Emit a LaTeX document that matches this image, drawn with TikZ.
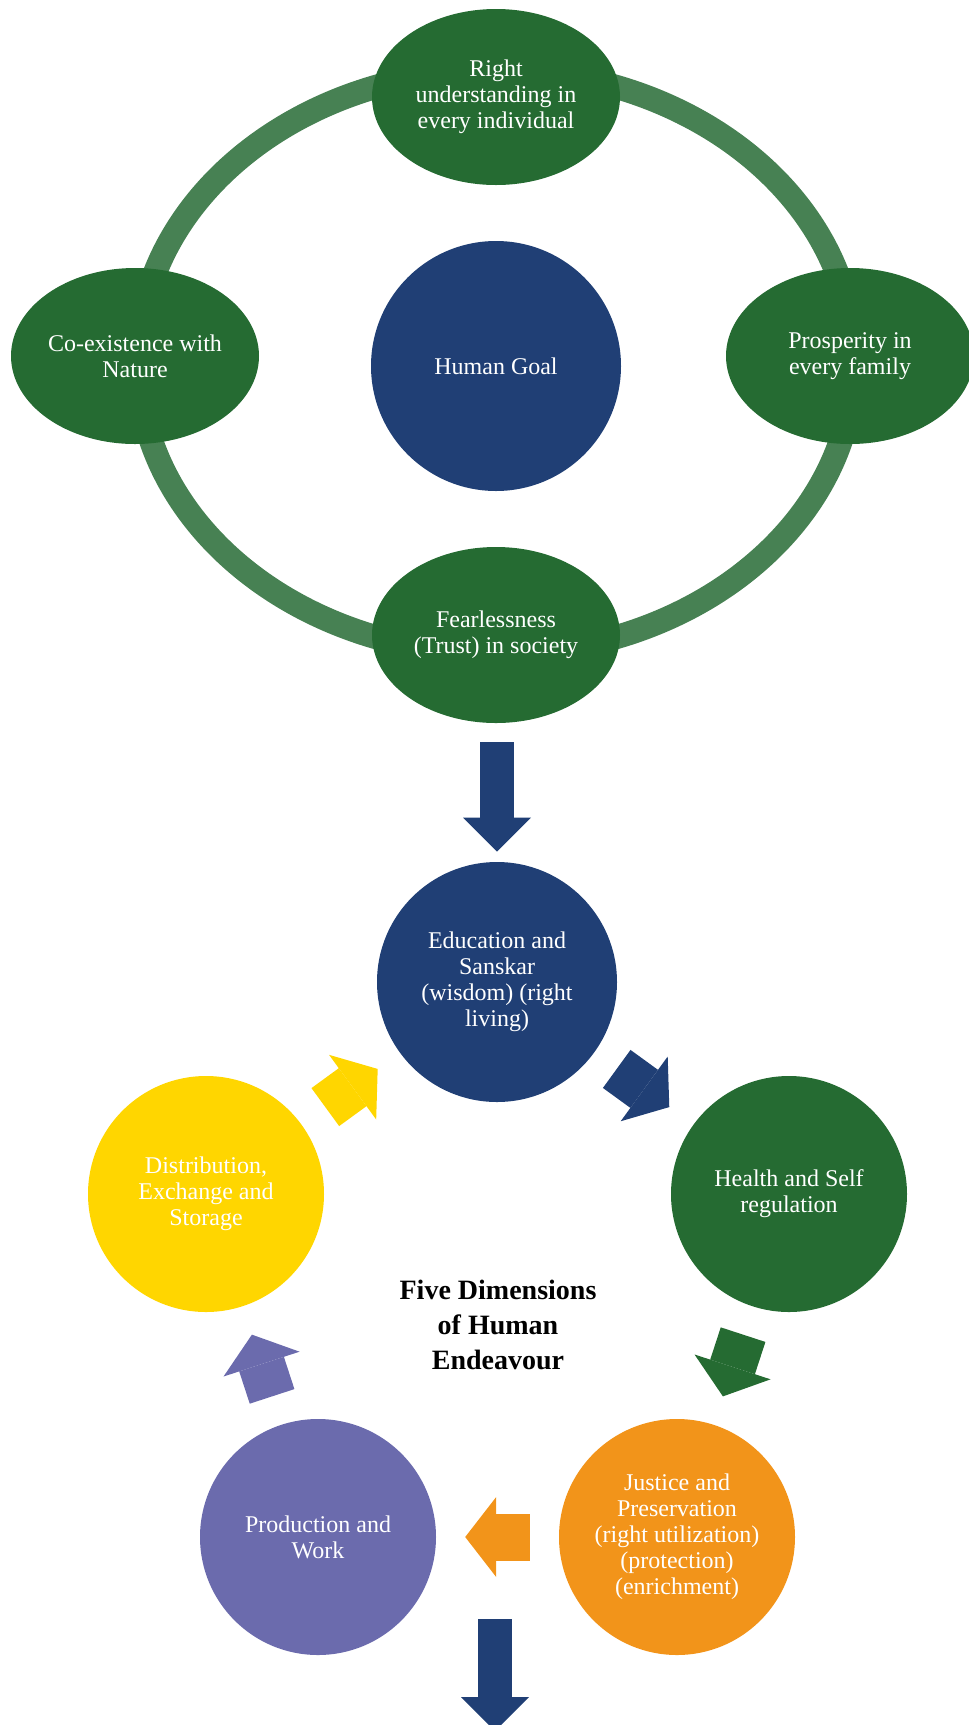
\documentclass[tikz,border=0pt]{standalone}
\usepackage{fontspec}
\setmainfont{Liberation Serif}
\usetikzlibrary{arrows.meta,shapes.geometric,calc}

\definecolor{leafgreen}{RGB}{37,107,50}
\definecolor{ringgreen}{RGB}{71,129,83}
\definecolor{navy}{RGB}{32,63,117}
\definecolor{sunyellow}{RGB}{255,214,0}
\definecolor{amber}{RGB}{242,148,26}
\definecolor{lavender}{RGB}{107,107,173}

\begin{document}
\begin{tikzpicture}[x=0.5pt, y=-0.5pt,
    whitetext/.style={text=white, align=center, inner sep=0pt, font=\fontsize{12}{13}\selectfont},
    goalnode/.style={whitetext, ellipse, fill=leafgreen, minimum width=124pt, minimum height=88pt},
    dimnode/.style={whitetext, circle, minimum size=118pt},
    cyclearrow/.style={line width=23.5pt, -{Triangle[length=15.5pt, width=40pt, line width=0pt]}},
    flowarrow/.style={navy, line width=17pt, -{Triangle[length=17pt, width=34pt, line width=0pt]}}]
  \clip (0,0) rectangle (969,1725);

  % human goal ring
  \draw[ringgreen, line width=12pt] (496,362) ellipse [x radius=179pt, y radius=146pt];
  \node (goal) at (496,366) [whitetext, circle, fill=navy, minimum size=125pt] {Human Goal};
  \node (understanding) at (496,97) [goalnode] {Right\\understanding in\\every individual};
  \node (prosperity) at (850,356) [goalnode] {Prosperity in\\every family};
  \node (fear) at (496,635) [goalnode] {Fearlessness\\(Trust) in society};
  \node (nature) at (135,356) [goalnode] {Co-existence with\\Nature};

  % five dimensions
  \node (edu) at (497,982) [dimnode, fill=navy, minimum size=120pt] {Education and\\Sanskar\\(wisdom) (right\\living)};
  \node (health) at (789,1194) [dimnode, fill=leafgreen] {Health and Self\\regulation};
  \node (justice) at (677,1537) [dimnode, fill=amber] {Justice and\\Preservation\\(right utilization)\\(protection)\\(enrichment)};
  \node (work) at (318,1537) [dimnode, fill=lavender] {Production and\\Work};
  \node (exchange) at (206,1194) [dimnode, fill=sunyellow] {Distribution,\\Exchange and\\Storage};
  \node (title) at (498,1325) [align=center, font=\fontsize{14}{17.5}\selectfont\bfseries] {Five Dimensions\\of Human\\Endeavour};

  \draw[flowarrow] ($(fear.south -| edu.north)+(0,-9.5pt)$) -- ([yshift=5pt]edu.north);

  \draw[cyclearrow, navy] ($(edu)!0.41!(health)$) -- ($(edu)!0.59!(health)$);
  \draw[cyclearrow, leafgreen] ($(health)!0.41!(justice)$) -- ($(health)!0.59!(justice)$);
  \draw[cyclearrow, amber] ($(justice)!0.41!(work)$) -- ($(justice)!0.59!(work)$);
  \draw[cyclearrow, lavender] ($(work)!0.41!(exchange)$) -- ($(work)!0.59!(exchange)$);
  \draw[cyclearrow, sunyellow] ($(exchange)!0.41!(edu)$) -- ($(exchange)!0.59!(edu)$);

  \coordinate (next) at (495,1619);
  \coordinate (nextend) at (495,1731);
  \draw[flowarrow] (next) -- (nextend);
\end{tikzpicture}
\end{document}
